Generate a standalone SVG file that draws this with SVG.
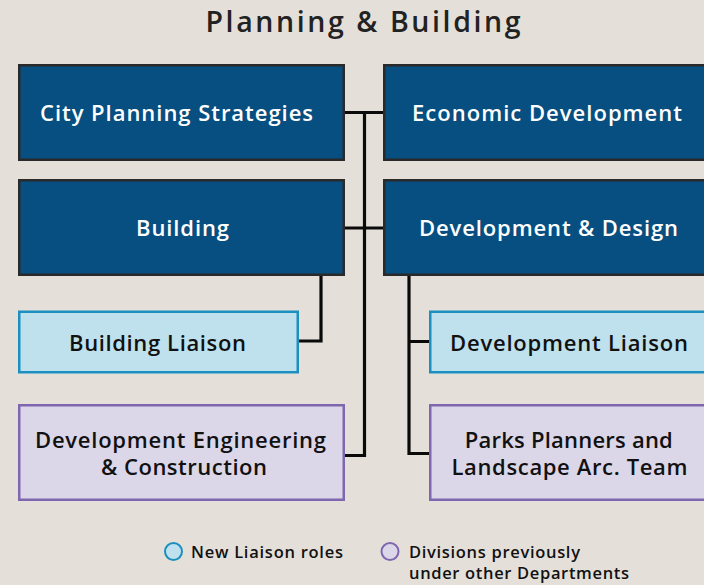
<svg xmlns="http://www.w3.org/2000/svg" width="704" height="585" viewBox="0 0 704 585">
<style>
.bg{fill:#e4e0d9}
.dark{fill:#064f80;stroke:#2a2a2a;stroke-width:2.5}
.liaison{fill:#bfe1ee;stroke:#1a8fc0;stroke-width:2.5}
.div{fill:#dcd7e8;stroke:#7f67b0;stroke-width:2.5}
.t{font-family:"Open Sans","Liberation Sans",sans-serif;font-weight:600;text-anchor:middle}
.tw{fill:#ffffff;font-size:22px}
.tb{fill:#111111;font-size:22px}
.title{font-family:"Open Sans","Liberation Sans",sans-serif;font-weight:600;font-size:28.5px;fill:#222222;text-anchor:middle}
.leg{font-family:"Open Sans","Liberation Sans",sans-serif;font-weight:600;font-size:16.5px;fill:#111111}
.conn{fill:none;stroke:#0a0a0a;stroke-width:3.2;stroke-linejoin:miter}
</style>
<rect class="bg" x="0" y="0" width="704" height="585"/>
<text class="title" x="363" y="31.5" textLength="315">Planning &amp; Building</text>
<g id="connectors">
<path class="conn" d="M345 112.5H384M364.5 112.5V455.5H345M345 228H384"/>
<path class="conn" d="M321 276V341H299"/>
<path class="conn" d="M409 276V453.5H430M409 341.5H430"/>
</g>
<g id="city-planning">
<rect class="dark" x="19.25" y="65.25" width="324.5" height="94.5"/>
<text class="t tw" x="176.5" y="121" textLength="273">City Planning Strategies</text>
</g>
<g id="economic-development">
<rect class="dark" x="384.25" y="65.25" width="324.5" height="94.5"/>
<text class="t tw" x="547" y="121" textLength="270">Economic Development</text>
</g>
<g id="building">
<rect class="dark" x="19.25" y="180.25" width="324.5" height="94.5"/>
<text class="t tw" x="182.5" y="236" textLength="93">Building</text>
</g>
<g id="development-design">
<rect class="dark" x="384.25" y="180.25" width="324.5" height="94.5"/>
<text class="t tw" x="548.5" y="236" textLength="259">Development &amp; Design</text>
</g>
<g id="building-liaison">
<rect class="liaison" x="19.25" y="311.75" width="278.5" height="60.5"/>
<text class="t tb" x="157.5" y="351" textLength="177">Building Liaison</text>
</g>
<g id="development-liaison">
<rect class="liaison" x="430.25" y="311.75" width="278.5" height="60.5"/>
<text class="t tb" x="569" y="351" textLength="238">Development Liaison</text>
</g>
<g id="development-engineering">
<rect class="div" x="19.25" y="405.25" width="324.5" height="94.5"/>
<text class="t tb" x="180.5" y="447.5" textLength="291">Development Engineering</text>
<text class="t tb" x="184" y="475" textLength="166">&amp; Construction</text>
</g>
<g id="parks-planners">
<rect class="div" x="430.25" y="405.25" width="324.5" height="94.5"/>
<text class="t tb" x="568.8" y="447.5" textLength="208">Parks Planners and</text>
<text class="t tb" x="569.5" y="475" textLength="236">Landscape Arc. Team</text>
</g>
<g id="legend">
<circle cx="173.5" cy="551.5" r="8.5" fill="#bfe1ee" stroke="#1a8fc0" stroke-width="2"/>
<text class="leg" x="191" y="557.5" textLength="152">New Liaison roles</text>
<circle cx="390" cy="551.5" r="8.5" fill="#dcd7e8" stroke="#7f67b0" stroke-width="2"/>
<text class="leg" x="409" y="557.5" textLength="171">Divisions previously</text>
<text class="leg" x="409" y="579" textLength="220">under other Departments</text>
</g>
</svg>
